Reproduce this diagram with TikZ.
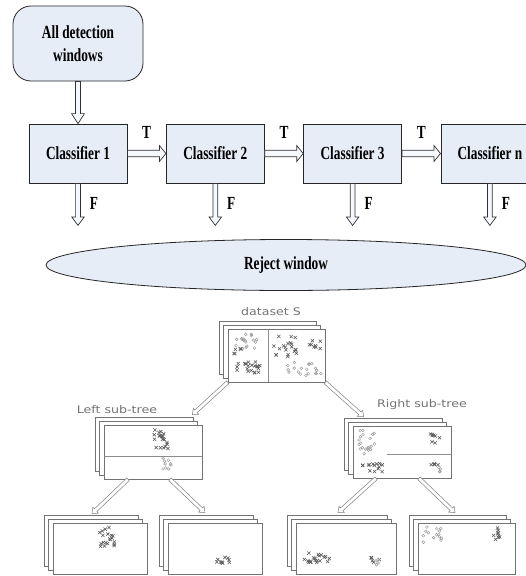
\documentclass[tikz,border=0pt]{standalone}
\usepackage{fontspec}
\setmainfont{Liberation Serif}
\newfontfamily\boxfont[FakeStretch=0.72]{Liberation Serif}
\newfontfamily\treefont[FakeStretch=1.2]{DejaVu Sans}
\usetikzlibrary{calc,positioning,shadows,shapes.geometric}
\definecolor{boxblue}{RGB}{231,237,247}

% hollow block arrow: [style]{from}{to}{shaft half}{head half}{head length}
\newcommand{\harrow}[6][]{%
  \coordinate (hb) at ($(#3)!#6pt!(#2)$);
  \draw[#1] ($(#2)!#4pt!90:(#3)$) -- ($(hb)!#4pt!90:(#3)$) -- ($(hb)!#5pt!90:(#3)$) -- (#3)
    -- ($(hb)!#5pt!-90:(#3)$) -- ($(hb)!#4pt!-90:(#3)$) -- ($(#2)!#4pt!-90:(#3)$) -- cycle;
}
% scatter marks: {cx}{cy}{n}{rx}{ry}
\newcommand{\crosses}[5]{%
  \foreach \k in {1,...,#3}{
    \pgfmathsetmacro\bx{#1+#4*rand}
    \pgfmathsetmacro\by{#2+#5*rand}
    \draw[xmk] (\bx,\by) +(-1.6,-1.6) -- +(1.6,1.6) +(-1.6,1.6) -- +(1.6,-1.6);
  }}
\newcommand{\rings}[5]{%
  \foreach \k in {1,...,#3}{
    \pgfmathsetmacro\bx{#1+#4*rand}
    \pgfmathsetmacro\by{#2+#5*rand}
    \draw[omk] (\bx,\by) circle[radius=1.4];
  }}

\tikzset{
  clsbox/.style={draw=black!85, fill=boxblue, line width=0.8pt, minimum width=98, minimum height=59,
    font=\boxfont\bfseries\fontsize{18.5}{22.5}\selectfont},
  lbl/.style={font=\boxfont\bfseries\fontsize{18.5}{22.5}\selectfont},
  hol/.style={draw=black!80, fill=boxblue!40, line width=0.7pt},
  sheet/.style={draw=black!55, fill=white, line width=0.6pt, inner sep=0,
    general shadow={shadow xshift=-9pt, shadow yshift=8pt, draw=black!55, fill=white, line width=0.6pt},
    general shadow={shadow xshift=-4.5pt, shadow yshift=4pt, draw=black!55, fill=white, line width=0.6pt}},
  tlbl/.style={font=\treefont\fontsize{10.5}{12}\selectfont, text=black!55},
  tarr/.style={draw=black!50, fill=white, line width=0.5pt},
  divl/.style={draw=black!45, line width=0.5pt},
  xmk/.style={draw=black!65, line width=0.55pt},
  omk/.style={draw=black!40, line width=0.45pt},
}

\begin{document}
\begin{tikzpicture}[x=1pt, y=-1pt]
\useasboundingbox (0,0) rectangle (526,576);
\clip (0,0) rectangle (526,576);

% cascade of classifiers
\node[clsbox, rounded corners=18, minimum width=130, minimum height=75, align=center] (start) at (78,43.5) {All detection\\windows};
\node[clsbox] (c1) at (78,153.5) {Classifier 1};
\node[clsbox, right=38.5 of c1] (c2) {Classifier 2};
\node[clsbox, right=38.5 of c2] (c3) {Classifier 3};
\node[clsbox, right=38.5 of c3] (cn) {Classifier n};

\harrow[hol]{start.south}{c1.north}{2.5}{6.5}{10}
\harrow[hol]{c1.east}{c2.west}{3.3}{8}{6.5}
\harrow[hol]{c2.east}{c3.west}{3.3}{8}{6.5}
\harrow[hol]{c3.east}{cn.west}{3.3}{8}{6.5}
\node[lbl] (t1) at ($(c1.east)!0.5!(c2.west)+(0,-21)$) {T};
\node[lbl] (t2) at ($(c2.east)!0.5!(c3.west)+(0,-21)$) {T};
\node[lbl] (t3) at ($(c3.east)!0.5!(cn.west)+(0,-21)$) {T};

\foreach \c in {c1,c2,c3,cn}{
  \coordinate (f\c) at ($(\c.south)+(0,42)$);
  \harrow[hol]{\c.south}{f\c}{2.4}{6.3}{8.5}
  \node[lbl] (fl\c) at ($(\c.south)+(16,20)$) {F};
}

\node[ellipse, draw=black!85, fill=boxblue, line width=0.8pt, minimum width=480, minimum height=51, inner sep=0, lbl] (rej) at (286,265) {Reject window};

% decision tree
\node[sheet, minimum width=97, minimum height=53] (ds) at (276.5,355.5) {};
\node[sheet, minimum width=98, minimum height=54] (lst) at (153,452) {};
\node[sheet, minimum width=98, minimum height=52] (rst) at (402,452) {};
\node[sheet, minimum width=94, minimum height=51] (ll) at (100,548.5) {};
\node[sheet, minimum width=94, minimum height=51] (lr) at (215,548.5) {};
\node[sheet, minimum width=100, minimum height=51] (rl) at (346,548.5) {};
\node[sheet, minimum width=97, minimum height=51] (rr) at (466.5,548.5) {};

\node[tlbl] (dsl) at (271,312) {dataset S};
\node[tlbl] (lstl) at (117,410) {Left sub-tree};
\node[tlbl] (rstl) at (422,405) {Right sub-tree};

\draw[divl] ($(ds.north)+(-8.5,0)$) -- ($(ds.south)+(-8.5,0)$);
\draw[divl] ($(lst.west)+(0,4)$) -- ($(lst.east)+(0,4)$);
\draw[divl] ($(rst.east)+(0,2)$) -- ++(-64,0);

\pgfmathsetseed{3}
% dataset S
\rings{246}{342}{18}{11}{8}
\crosses{237}{351}{5}{4}{3}
\crosses{249}{368}{20}{12}{6}
\crosses{286}{346}{20}{13}{11}
\crosses{315}{342}{8}{6}{7}
\rings{300}{369}{14}{14}{7}
\rings{318}{371}{5}{3}{4}
% left sub-tree
\crosses{160}{440}{20}{8}{10}
\rings{165}{463}{9}{6}{6}
% right sub-tree
\rings{369}{442}{20}{10}{12}
\crosses{373}{468}{14}{12}{5}
\crosses{436}{437}{8}{6}{8}
\crosses{436}{466}{5}{5}{6}
\rings{440}{468}{4}{3}{5}
% leaves
\crosses{107}{537}{20}{9}{10}
\crosses{224}{560}{10}{8}{4}
\crosses{318}{558}{20}{14}{5}
\crosses{375}{560}{5}{5}{6}
\rings{378}{562}{4}{3}{5}
\rings{434}{535}{14}{11}{8}
\crosses{500}{535}{9}{7}{7}

\harrow[tarr]{ds.south west}{$(lst.north east)+(-10,-10)$}{1.8}{4}{5}
\harrow[tarr]{ds.south east}{$(rst.north west)+(11,-9)$}{1.8}{4}{5}
\harrow[tarr]{$(lst.south)+(-25,0)$}{$(ll.north)+(-8,-9)$}{1.8}{4}{5}
\harrow[tarr]{$(lst.south)+(17,0)$}{$(lr.north)+(-10,-10)$}{1.8}{4}{5}
\harrow[tarr]{$(rst.south)+(-26,0)$}{$(rl.north)+(-8,-10)$}{1.8}{4}{5}
\harrow[tarr]{$(rst.south)+(17,0)$}{$(rr.north)+(-11.5,-10)$}{1.8}{4}{5}
\end{tikzpicture}
\end{document}
